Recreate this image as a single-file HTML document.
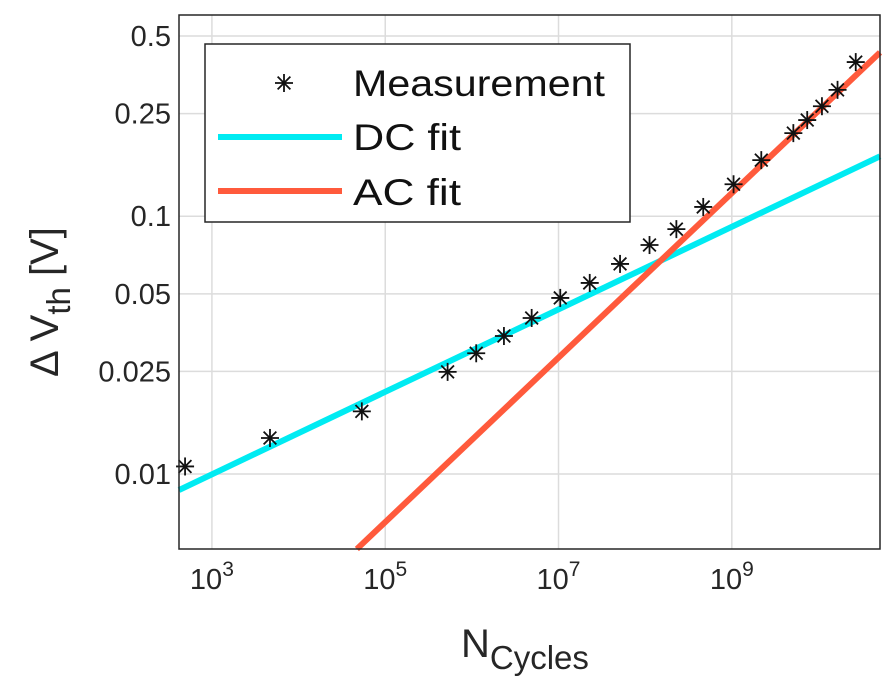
<!DOCTYPE html>
<html><head><meta charset="utf-8"><style>
html,body{margin:0;padding:0;background:#fff;}
svg{display:block;font-family:"Liberation Sans",Arial,sans-serif;}
</style></head><body>
<svg id="chart" width="887" height="689" viewBox="0 0 887 689" xmlns="http://www.w3.org/2000/svg">
<g id="grid"></g>
<g id="marks"></g>
<rect x="179" y="15" width="701" height="534" fill="none" stroke="#262626" stroke-width="1.5"/>
<g id="ticks"></g>
<text x="461" y="657" font-size="40" fill="#262626">N<tspan font-size="33" dy="12">Cycles</tspan></text>
<text transform="translate(58,302) rotate(-90)" text-anchor="middle" font-size="40" fill="#262626">Δ V<tspan font-size="33" dy="12">th</tspan><tspan dy="-12"> [V]</tspan></text>
<g>
<rect x="205" y="44" width="425" height="178" fill="#fff" stroke="#262626" stroke-width="1.5"/>
<g><g id="legstar" stroke="#111" stroke-width="1.8"></g><text x="353" y="96" font-size="37" fill="#111" textLength="252" lengthAdjust="spacingAndGlyphs">Measurement</text></g>
<g><line x1="218" y1="137" x2="342" y2="137" stroke="#00ebf2" stroke-width="6"/><text x="353" y="150" font-size="37" fill="#111" textLength="108" lengthAdjust="spacingAndGlyphs">DC fit</text></g>
<g><line x1="218" y1="191" x2="342" y2="191" stroke="#ff5a3c" stroke-width="6"/><text x="353" y="205" font-size="37" fill="#111" textLength="108" lengthAdjust="spacingAndGlyphs">AC fit</text></g>
</g>
</svg>
<script>
const measN=[2.69,3.67,4.73,5.72,6.05,6.37,6.69,7.02,7.36,7.71,8.05,8.36,8.67,9.02,9.34,9.71,9.87,10.04,10.22,10.43];
const measV=[0.0107,0.0138,0.0175,0.0249,0.0294,0.0343,0.0403,0.0482,0.0551,0.0653,0.0773,0.0891,0.1086,0.133,0.165,0.210,0.236,0.267,0.309,0.396];
const dcFit=[-2.062,0.160,2.62];
const acFit=[-2.291,0.319,4.672];
const xTicks=[3,5,7,9];
const yTicks=[0.5,0.25,0.1,0.05,0.025,0.01];
const yTickLabels=["0.5","0.25","0.1","0.05","0.025","0.01"];
const X0=179,X1=880,Y0=15,Y1=549;
const xMin=2.62,xMax=10.71,yMin=Math.log10(0.00512),yMax=Math.log10(0.603);
const sx=l=>X0+(l-xMin)/(xMax-xMin)*(X1-X0);
const sy=v=>Y1-(Math.log10(v)-yMin)/(yMax-yMin)*(Y1-Y0);
const NS="http://www.w3.org/2000/svg";
function mk(t,a,p){const e=document.createElementNS(NS,t);for(const k in a)e.setAttribute(k,a[k]);p.appendChild(e);return e;}
const grid=document.getElementById('grid'),marks=document.getElementById('marks'),ticks=document.getElementById('ticks');
xTicks.forEach(t=>{const x=sx(t);
 const g=mk('line',{x1:x,x2:x,y1:Y0,y2:Y1,stroke:'#dcdcdc','stroke-width':1.5},grid);
 
 const tx=mk('text',{x:x-22,y:589,'font-size':29,fill:'#262626'},ticks);tx.textContent='10';
 
 const ts=document.createElementNS(NS,'tspan');ts.setAttribute('font-size','21');ts.setAttribute('dy','-13');ts.textContent=String(t);tx.appendChild(ts);
});
yTicks.forEach((v,i)=>{const y=sy(v);
 const g=mk('line',{x1:X0,x2:X1,y1:y,y2:y,stroke:'#dcdcdc','stroke-width':1.5},grid);
 
 const tx=mk('text',{x:171,y:y+10,'font-size':29,fill:'#262626','text-anchor':'end'},ticks);tx.textContent=yTickLabels[i];
 
});
function fitLine(f,name,col){const a=Math.max(xMin,(yMin-f[0])/f[1]+f[2]);
 const lv=l=>Math.pow(10,f[0]+f[1]*(l-f[2]));
 const l=mk('line',{x1:sx(a),y1:sy(lv(a)),x2:sx(xMax),y2:sy(lv(xMax)),stroke:col,'stroke-width':6},marks);
 }
fitLine(dcFit,'dc-fit-line','#00ebf2');
fitLine(acFit,'ac-fit-line','#ff5a3c');
function star(x,y,p){for(let k=0;k<4;k++){const a=k*Math.PI/4,r=9;
  mk('line',{x1:x-r*Math.cos(a),y1:y-r*Math.sin(a),x2:x+r*Math.cos(a),y2:y+r*Math.sin(a)},p);}}
star(284,83,document.getElementById('legstar'));
measN.forEach((n,i)=>{const x=sx(n),y=sy(measV[i]);
 const g=mk('g',{stroke:'#111','stroke-width':1.8},marks);
 
 star(x,y,g);
});
</script>
</body></html>
